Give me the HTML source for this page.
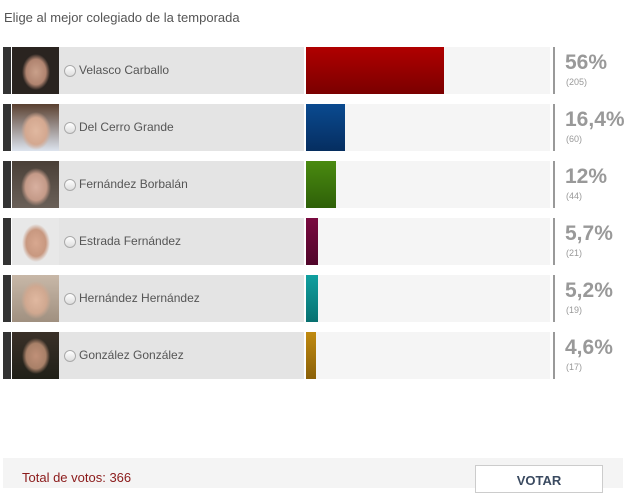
<!DOCTYPE html>
<html><head><style>
body{margin:0;width:632px;height:488px;background:#fff;font-family:"Liberation Sans",sans-serif;position:relative;overflow:hidden}
.t{position:absolute;left:4px;top:10px;font-size:13px;color:#555}
.r{position:absolute;left:3px;height:47px;width:620px}
.strip{position:absolute;left:0;top:0;width:8px;height:47px;background:#333}
.ph{position:absolute;left:9px;top:0;width:47px;height:47px;background:radial-gradient(ellipse 14px 18px at 24px 25px,#c9a08a 0,#b08470 70%,transparent 100%),linear-gradient(#2a2420,#2a2420)}
.lab{position:absolute;left:56px;top:0;width:245px;height:47px;background:#e4e4e4}
.rad{position:absolute;left:5px;top:18px;width:10px;height:10px;border-radius:50%;border:1px solid #aaa;background:linear-gradient(#fff,#ddd)}
.nm{position:absolute;left:20px;top:16px;font-size:12px;color:#555}
.ba{position:absolute;left:303px;top:0;width:244px;height:47px;background:#f5f5f5}
.bar{position:absolute;left:0;top:0;height:47px}
.dv{position:absolute;left:550px;top:0;width:2px;height:47px;background:#999}
.pc{position:absolute;left:562px;top:4px;font-size:21px;font-weight:bold;color:#999}
.ct{position:absolute;left:563px;top:30px;font-size:9px;color:#999}
.foot{position:absolute;left:3px;top:458px;width:620px;height:30px;background:#f4f4f4}
.tot{position:absolute;left:19px;top:12px;font-size:13px;color:#8b1a1a}
.btn{position:absolute;left:472px;top:7px;width:126px;height:26px;background:#fff;border:1px solid #ccc;text-align:center;font-size:13px;font-weight:bold;color:#3a4a60;line-height:30px}
</style></head><body>
<div class="t">Elige al mejor colegiado de la temporada</div>

<div class="r" style="top:47px"><div class="strip"></div><div class="ph"></div><div class="lab"><div class="rad"></div><div class="nm">Velasco Carballo</div></div><div class="ba"><div class="bar" style="width:138px;background:linear-gradient(#b00000,#7a0000)"></div></div><div class="dv"></div><div class="pc">56%</div><div class="ct">(205)</div></div>

<div class="r" style="top:104px"><div class="strip"></div><div class="ph" style="background:radial-gradient(ellipse 15px 19px at 24px 27px,#e0b8a0 0,#d4a890 70%,transparent 100%),linear-gradient(#5a4030,#dde4ee)"></div><div class="lab"><div class="rad"></div><div class="nm">Del Cerro Grande</div></div><div class="ba"><div class="bar" style="width:39px;background:linear-gradient(#0a4a90,#062e60)"></div></div><div class="dv"></div><div class="pc">16,4%</div><div class="ct">(60)</div></div>

<div class="r" style="top:161px"><div class="strip"></div><div class="ph" style="background:radial-gradient(ellipse 15px 19px at 24px 26px,#d8b0a0 0,#c49a88 70%,transparent 100%),linear-gradient(#4a4038,#6a6058)"></div><div class="lab"><div class="rad"></div><div class="nm">Fernández Borbalán</div></div><div class="ba"><div class="bar" style="width:30px;background:linear-gradient(#4a8a10,#2e6008)"></div></div><div class="dv"></div><div class="pc">12%</div><div class="ct">(44)</div></div>

<div class="r" style="top:218px"><div class="strip"></div><div class="ph" style="background:radial-gradient(ellipse 14px 19px at 24px 25px,#d8a890 0,#c89880 70%,transparent 100%),linear-gradient(#e8e8e8,#e8e8e8)"></div><div class="lab"><div class="rad"></div><div class="nm">Estrada Fernández</div></div><div class="ba"><div class="bar" style="width:12px;background:linear-gradient(#7a0a40,#50062a)"></div></div><div class="dv"></div><div class="pc">5,7%</div><div class="ct">(21)</div></div>

<div class="r" style="top:275px"><div class="strip"></div><div class="ph" style="background:radial-gradient(ellipse 15px 19px at 24px 25px,#e0b8a0 0,#d0a890 70%,transparent 100%),linear-gradient(#c8b8a8,#a09080)"></div><div class="lab"><div class="rad"></div><div class="nm">Hernández Hernández</div></div><div class="ba"><div class="bar" style="width:12px;background:linear-gradient(#10a0a0,#087070)"></div></div><div class="dv"></div><div class="pc">5,2%</div><div class="ct">(19)</div></div>

<div class="r" style="top:332px"><div class="strip"></div><div class="ph" style="background:radial-gradient(ellipse 14px 18px at 24px 24px,#c09078 0,#a88068 70%,transparent 100%),linear-gradient(#3a3028,#202018)"></div><div class="lab"><div class="rad"></div><div class="nm">González González</div></div><div class="ba"><div class="bar" style="width:10px;background:linear-gradient(#c08a10,#8a6008)"></div></div><div class="dv"></div><div class="pc">4,6%</div><div class="ct">(17)</div></div>

<div class="foot"><div class="tot">Total de votos: 366</div><div class="btn">VOTAR</div></div>
</body></html>
